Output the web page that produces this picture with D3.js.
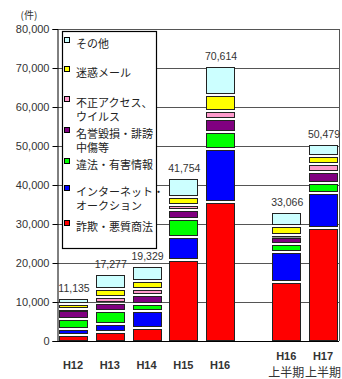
<!DOCTYPE html>
<html><head><meta charset="utf-8">
<script src="https://cdn.jsdelivr.net/npm/d3@7"></script>
<style>body{margin:0;background:#fff}svg{display:block}</style>
</head><body>
<svg id="c" width="342" height="379"></svg>
<script>
// ---- data ----
const categories = ["H12","H13","H14","H15","H16","H16上半期","H17上半期"];
const totals = [11135, 17277, 19329, 41754, 70614, 33066, 50479];
const fraud        = [1550, 2400, 3400, 20800, 35600, 15100, 29000]; // 詐欺・悪質商法
const auction      = [1400, 2000, 4200, 5900, 13700, 7700, 9000];    // インターネット・オークション
const illegal      = [2700, 3200, 1900, 4600, 4200, 2050, 2600];     // 違法・有害情報
const defamation   = [2200, 2100, 2400, 2300, 3500, 1900, 2800];     // 名誉毀損・誹謗中傷等
const unauthorized = [400, 1600, 1500, 1200, 1900, 500, 1900];       // 不正アクセス、ウイルス
const spam         = [1200, 2100, 2000, 2200, 4200, 2200, 2200];     // 迷惑メール
const other        = [1685, 3877, 3929, 4754, 7514, 3616, 2979];     // その他
const seriesNames = ["詐欺・悪質商法","インターネット・オークション","違法・有害情報","名誉毀損・誹謗中傷等","不正アクセス、ウイルス","迷惑メール","その他"];
const legendLabels = [["詐欺・悪質商法"],["インターネット・","オークション"],["違法・有害情報"],["名誉毀損・誹謗","中傷等"],["不正アクセス、","ウイルス"],["迷惑メール"],["その他"]];
const yTicks = [0,10000,20000,30000,40000,50000,60000,70000,80000];

// ---- layout ----
const colors = ["#ff0000","#0000ff","#00ff00","#800080","#ff99cc","#ffff00","#ccffff"];
const seriesValues = [fraud, auction, illegal, defamation, unauthorized, spam, other];
const L = 57, R = 339, T = 29, B = 341;
const svg = d3.select("#c");
const y = d3.scaleLinear().domain([0, 80000]).range([B, T]);
// slot positions: second group separated by a gap of 0.8 slot
const slot = categories.map((c, i) => i + (i >= 5 ? 0.8 : 0));
const x = d3.scaleLinear().domain([0, 6.8]).range([73, 323]);
const barW = 28;
const fontLat = "'Liberation Sans', Arial, 'Noto Sans CJK JP', sans-serif";
const fontJP = "'Noto Sans CJK JP', sans-serif";

// gridlines
svg.append("g").selectAll("line").data(yTicks.filter(d => d > 0)).join("line")
  .attr("x1", L).attr("x2", R)
  .attr("y1", d => Math.round(y(d)) + 0.5).attr("y2", d => Math.round(y(d)) + 0.5)
  .attr("stroke", "#555").attr("stroke-width", 1);
// right border
svg.append("line").attr("x1", R + 0.5).attr("x2", R + 0.5).attr("y1", T).attr("y2", B)
  .attr("stroke", "#555");

// y axis
const yAxis = d3.axisLeft(y).tickValues(yTicks).tickSize(5).tickPadding(3)
  .tickFormat(d3.format(","));
const ga = svg.append("g").attr("transform", `translate(${L + 0.5},0)`).call(yAxis);
ga.select(".domain").attr("stroke", "#000");
ga.selectAll(".tick line").attr("stroke", "#000");
ga.selectAll(".tick text").attr("font-family", fontLat).attr("font-size", 11)
  .attr("fill", "#333");
svg.append("text").attr("x", 29).attr("y", 19).attr("text-anchor", "middle")
  .attr("font-family", fontJP).attr("font-size", 10).attr("fill", "#333").text("(件)");

// stacked bars
const stackData = categories.map((c, i) => {
  const o = {cat: c, i};
  seriesValues.forEach((s, k) => o["s" + k] = s[i]);
  return o;
});
const stack = d3.stack().keys(seriesValues.map((s, k) => "s" + k))(stackData);
const bars = svg.append("g");
stack.forEach((layer, k) => {
  bars.append("g").selectAll("rect").data(layer).join("rect")
    .attr("x", d => Math.round(x(slot[d.data.i]) - barW / 2) + 0.5)
    .attr("width", barW)
    .attr("y", d => Math.round(y(d[1])) + 1.5)
    .attr("height", d => Math.max(0.5, Math.round(y(d[0])) - Math.round(y(d[1])) - (k === 0 ? 2 : 3)))
    .attr("fill", colors[k]).attr("stroke", "#222").attr("stroke-width", 1);
});
// bottom axis line
svg.append("line").attr("x1", L).attr("x2", R).attr("y1", B + 0.5).attr("y2", B + 0.5)
  .attr("stroke", "#000");

// total labels
svg.append("g").selectAll("text").data(totals).join("text")
  .attr("x", (d, i) => x(slot[i]) + 1).attr("y", d => y(d) - 6)
  .attr("text-anchor", "middle").attr("font-family", fontLat).attr("font-size", 10.5)
  .attr("fill", "#333").text(d => d3.format(",")(d));

// category labels
const cl = svg.append("g").selectAll("text").data(categories).join("text")
  .attr("text-anchor", "middle").attr("font-family", fontLat).attr("font-weight", "bold")
  .attr("font-size", 11).attr("fill", "#333");
cl.each(function(d, i) {
  const t = d3.select(this);
  const cx = x(slot[i]);
  const m = d.match(/^(H\d+)(.*)$/);
  if (m[2]) {
    t.append("tspan").attr("x", cx).attr("y", 360).text(m[1]);
    t.append("tspan").attr("x", cx).attr("y", 377).attr("font-family", fontJP)
      .attr("font-weight", "normal").attr("font-size", 12).text(m[2]);
  } else {
    t.attr("x", cx).attr("y", 369).text(d);
  }
});

// legend
const legendLineY = [44, 73, 103, 134, 165, 192, 227]; // top-down, first line centre
const lg = svg.append("g");
lg.append("rect").attr("x", 62.5).attr("y", 31.5).attr("width", 94).attr("height", 217)
  .attr("fill", "#fff").attr("stroke", "#000").attr("stroke-width", 1.2);
const order = d3.range(seriesNames.length).reverse();
order.forEach((k, j) => {
  const cy = legendLineY[j];
  lg.append("rect").attr("x", 64.5).attr("y", cy - 6.5).attr("width", 5).attr("height", 5)
    .attr("fill", colors[k]).attr("stroke", "#000").attr("stroke-width", 1);
  legendLabels[k].forEach((line, li) => {
    lg.append("text").attr("font-family", fontJP).attr("font-size", 11)
      .attr("fill", "#222").attr("x", 76).attr("y", cy + 4 + li * 13.5).text(line);
  });
});
</script>
</body></html>
